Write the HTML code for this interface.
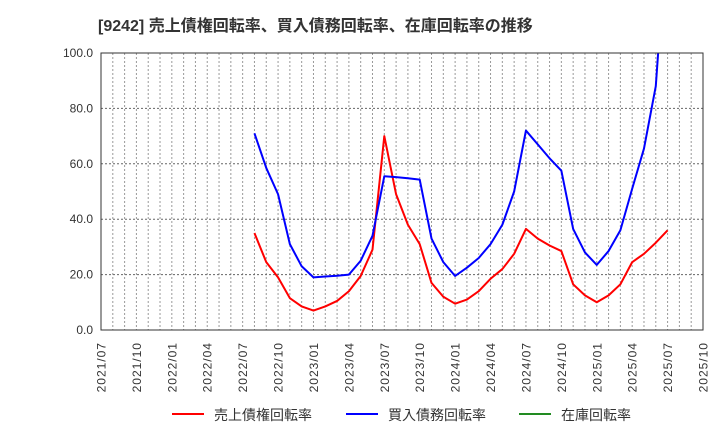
<!DOCTYPE html>
<html><head><meta charset="utf-8"><style>
body{margin:0;background:#fff}
svg text{font-family:"Liberation Sans","Noto Sans CJK JP",sans-serif}
</style></head><body>
<svg id="chart" width="720" height="440" xmlns="http://www.w3.org/2000/svg">
<text x="98" y="31" font-size="16" font-weight="bold" fill="#333">[9242]  売上債権回転率、買入債務回転率、在庫回転率の推移</text>
<defs><clipPath id="clip"><rect x="101" y="53" width="602" height="277"/></clipPath></defs>
<g id="grid"></g><g id="series" clip-path="url(#clip)"></g><g id="axes"></g>
<g>
<line x1="172" y1="414" x2="204" y2="414" stroke="#f00" stroke-width="2"/>
<text x="214" y="420" font-size="14" fill="#333">売上債権回転率</text>
<line x1="346" y1="414" x2="378" y2="414" stroke="#00f" stroke-width="2"/>
<text x="388" y="420" font-size="14" fill="#333">買入債務回転率</text>
<line x1="519" y1="414" x2="551" y2="414" stroke="#228b22" stroke-width="2"/>
<text x="561" y="420" font-size="14" fill="#333">在庫回転率</text>
</g>
</svg>
<script>
const startIndex = 13; // 2022/08
const receivables = [35,24.5,19,11.5,8.5,7,8.5,10.5,14,19.5,29,70,49,38,31,17,12,9.5,11,14,18.5,22,27.5,36.5,33,30.5,28.5,16.5,12.5,10,12.5,16.5,24.5,27.5,31.5,36];
const payables = [71,58.5,49,31,23,19,19.3,19.6,20,25,34,55.5,55.2,54.8,54.3,33,24.5,19.5,22.5,26,31,38,50,72,67,62,57.5,36.5,28,23.5,28.5,36,51,65.5,88,148];
const yTicks = [0,20,40,60,80,100];
const xLabels = ["2021/07","2021/10","2022/01","2022/04","2022/07","2022/10","2023/01","2023/04","2023/07","2023/10","2024/01","2024/04","2024/07","2024/10","2025/01","2025/04","2025/07","2025/10"];
const totalMonths = 51;
const L=101,R=703,T=53,B=330;
const xs=m=>L+(R-L)*m/totalMonths, ys=v=>B-(B-T)*v/100;
const NS="http://www.w3.org/2000/svg";
function mk(tag,attrs,parent){const e=document.createElementNS(NS,tag);for(const k in attrs)e.setAttribute(k,attrs[k]);parent.appendChild(e);return e;}
const grid=document.getElementById('grid'),axes=document.getElementById('axes'),ser=document.getElementById('series');
for(let m=1;m<totalMonths;m++){const l=mk('line',{x1:xs(m),x2:xs(m),y1:T,y2:B,stroke:'#999','stroke-dasharray':'2,2','stroke-width':1},grid);

}
yTicks.forEach(v=>{if(v>0&&v<100){const l=mk('line',{x1:L,x2:R,y1:ys(v),y2:ys(v),stroke:'#666','stroke-dasharray':'2,2','stroke-width':1},grid);

}
const t=mk('text',{x:L-8,y:ys(v)+4,'text-anchor':'end','font-size':12,fill:'#333'},axes);t.textContent=v.toFixed(1);

});
xLabels.forEach((s,i)=>{const x=xs(i*3);const t=mk('text',{transform:`translate(${x+4.5},${342}) rotate(-90)`,'text-anchor':'end','font-size':12,'letter-spacing':'1',fill:'#333'},axes);t.textContent=s;

});
const frame=mk('rect',{x:L,y:T,width:R-L,height:B-T,fill:'none',stroke:'#333','stroke-width':1},axes);


function line(arr,color,name){const p=mk('polyline',{points:arr.map((v,i)=>xs(startIndex+i)+','+ys(v)).join(' '),fill:'none',stroke:color,'stroke-width':2,'stroke-linejoin':'round'},ser);

}
line(receivables,'#f00','receivables-turnover-line');
line(payables,'#00f','payables-turnover-line');
</script>
</body></html>
